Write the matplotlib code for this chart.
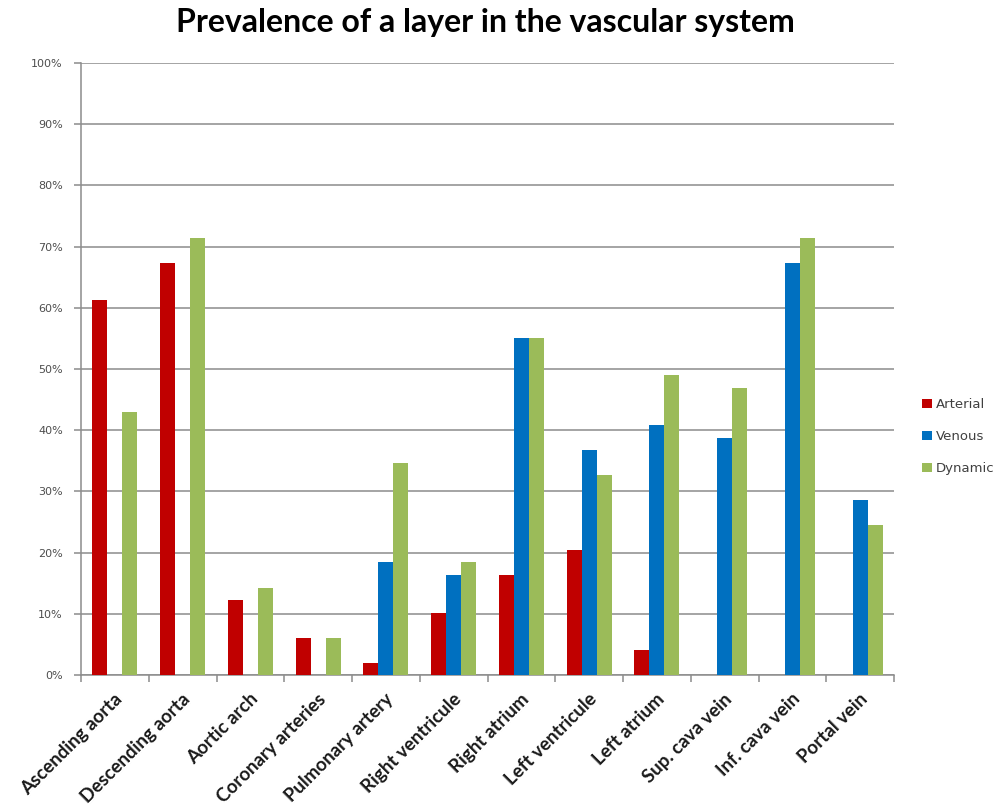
import numpy as np
import matplotlib.pyplot as plt
from matplotlib.ticker import PercentFormatter

sites = ['Ascending aorta', 'Descending aorta', 'Aortic arch', 'Coronary arteries',
         'Pulmonary artery', 'Right ventricule', 'Right atrium', 'Left ventricule',
         'Left atrium', 'Sup. cava vein', 'Inf. cava vein', 'Portal vein']

# percent of cases per site
arterial = [61.2, 67.3, 12.2, 6.1, 2.0, 10.2, 16.3, 20.4, 4.1, 0, 0, 0]
venous = [0, 0, 0, 0, 18.4, 16.3, 55.1, 36.7, 40.8, 38.8, 67.3, 28.6]
dynamic = [42.9, 71.4, 14.3, 6.1, 34.7, 18.4, 55.1, 32.7, 49.0, 46.9, 71.4, 24.5]

series = [('Arterial', arterial, '#C00000'),
          ('Venous', venous, '#0070C0'),
          ('Dynamic', dynamic, '#9BBB59')]

fig = plt.figure(figsize=(10.05, 8.09), dpi=100)
ax = fig.add_axes([0.0806, 0.1656, 0.809, 0.7566])

x = np.arange(len(sites))
w = 1 / 4.5
for i, (name, vals, col) in enumerate(series):
    ax.bar(x + (i - 1) * w, vals, w, color=col, label=name, zorder=3)

ax.set_xlim(-0.5, len(sites) - 0.5)
ax.set_ylim(0, 100)
ax.set_yticks(np.arange(0, 101, 10))
ax.yaxis.set_major_formatter(PercentFormatter(decimals=0))
ax.grid(axis='y', color='#8c8c8c', lw=1.1, zorder=0)

for s in ['top', 'right']:
    ax.spines[s].set_visible(False)
for s in ['left', 'bottom']:
    ax.spines[s].set_color('#8c8c8c')
    ax.spines[s].set_linewidth(1.1)

# category boundary ticks
ax.set_xticks(np.arange(-0.5, len(sites) + 0.5, 1))
ax.set_xticklabels([])
ax.tick_params(axis='x', length=5, color='#8c8c8c', width=1.1)
ax.tick_params(axis='y', length=5, color='#8c8c8c', width=1.1,
               labelsize=8, labelcolor='#4d4d4d', pad=8)

for xi, lab in zip(x, sites):
    ax.annotate(lab, xy=(xi - 0.02, 0), xycoords=('data', 'axes fraction'),
                xytext=(0, -11), textcoords='offset points',
                rotation=45, ha='right', va='top', rotation_mode='anchor',
                fontsize=13.5, fontweight='bold', family='Lato', color='#1a1a1a')

fig.text(0.483, 0.972, 'Prevalence of a layer in the vascular system',
         ha='center', va='center', fontsize=23, fontweight='bold', family='Lato')

ax.legend(loc='center left', bbox_to_anchor=(0.906, 0.46), bbox_transform=fig.transFigure,
          frameon=False, fontsize=9.5, labelcolor='#404040', handlelength=0.7,
          handleheight=0.7, handletextpad=0.3, labelspacing=1.45)

fig.savefig('out.png', dpi=100)
